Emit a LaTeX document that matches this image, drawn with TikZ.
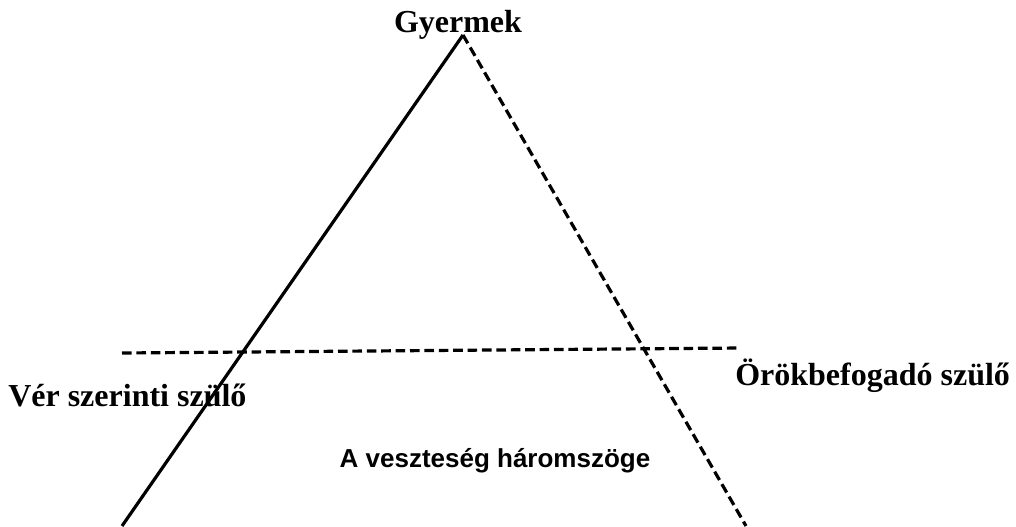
\documentclass[tikz,border=0pt]{standalone}
\usepackage{fontspec}
\setmainfont{Liberation Serif}
\setsansfont{Liberation Sans}
\usetikzlibrary{positioning}
\tikzset{
  vonal/.style={line width=2.4pt, draw=black},
  szaggatott/.style={vonal, dash pattern=on 7.2pt off 3.6pt},
  cimke/.style={font=\fontsize{24}{28}\selectfont\bfseries, inner sep=0pt, anchor=base},
  felirat/.style={font=\sffamily\fontsize{19.5}{23}\selectfont\bfseries, inner sep=0pt, anchor=base},
}

\begin{document}
\begin{tikzpicture}[x=0.75pt, y=-0.75pt]
  \useasboundingbox (0,0) rectangle (1016,526);

  % feliratok
  \node[cimke] (gyermek) at (458,32) {Gyermek};
  \node[cimke, anchor=base west] (ver) at (8,406) {Vér szerinti szülő};
  \node[cimke, anchor=base west] (orok) at (735,385) {Örökbefogadó szülő};
  \node[felirat] (cim) at (495,467) {A veszteség háromszöge};

  % haromszog
  \coordinate (csucs) at (463,35);
  \coordinate (balalso) at (122,526);
  \coordinate (jobbalso) at (746,526);
  \coordinate (vbal) at (122,353);
  \coordinate (vjobb) at (740,348);
  \draw[vonal] (csucs) -- (balalso);
  \draw[szaggatott] (csucs) -- (jobbalso);
  \draw[szaggatott] (vbal) -- (vjobb);
\end{tikzpicture}
\end{document}
